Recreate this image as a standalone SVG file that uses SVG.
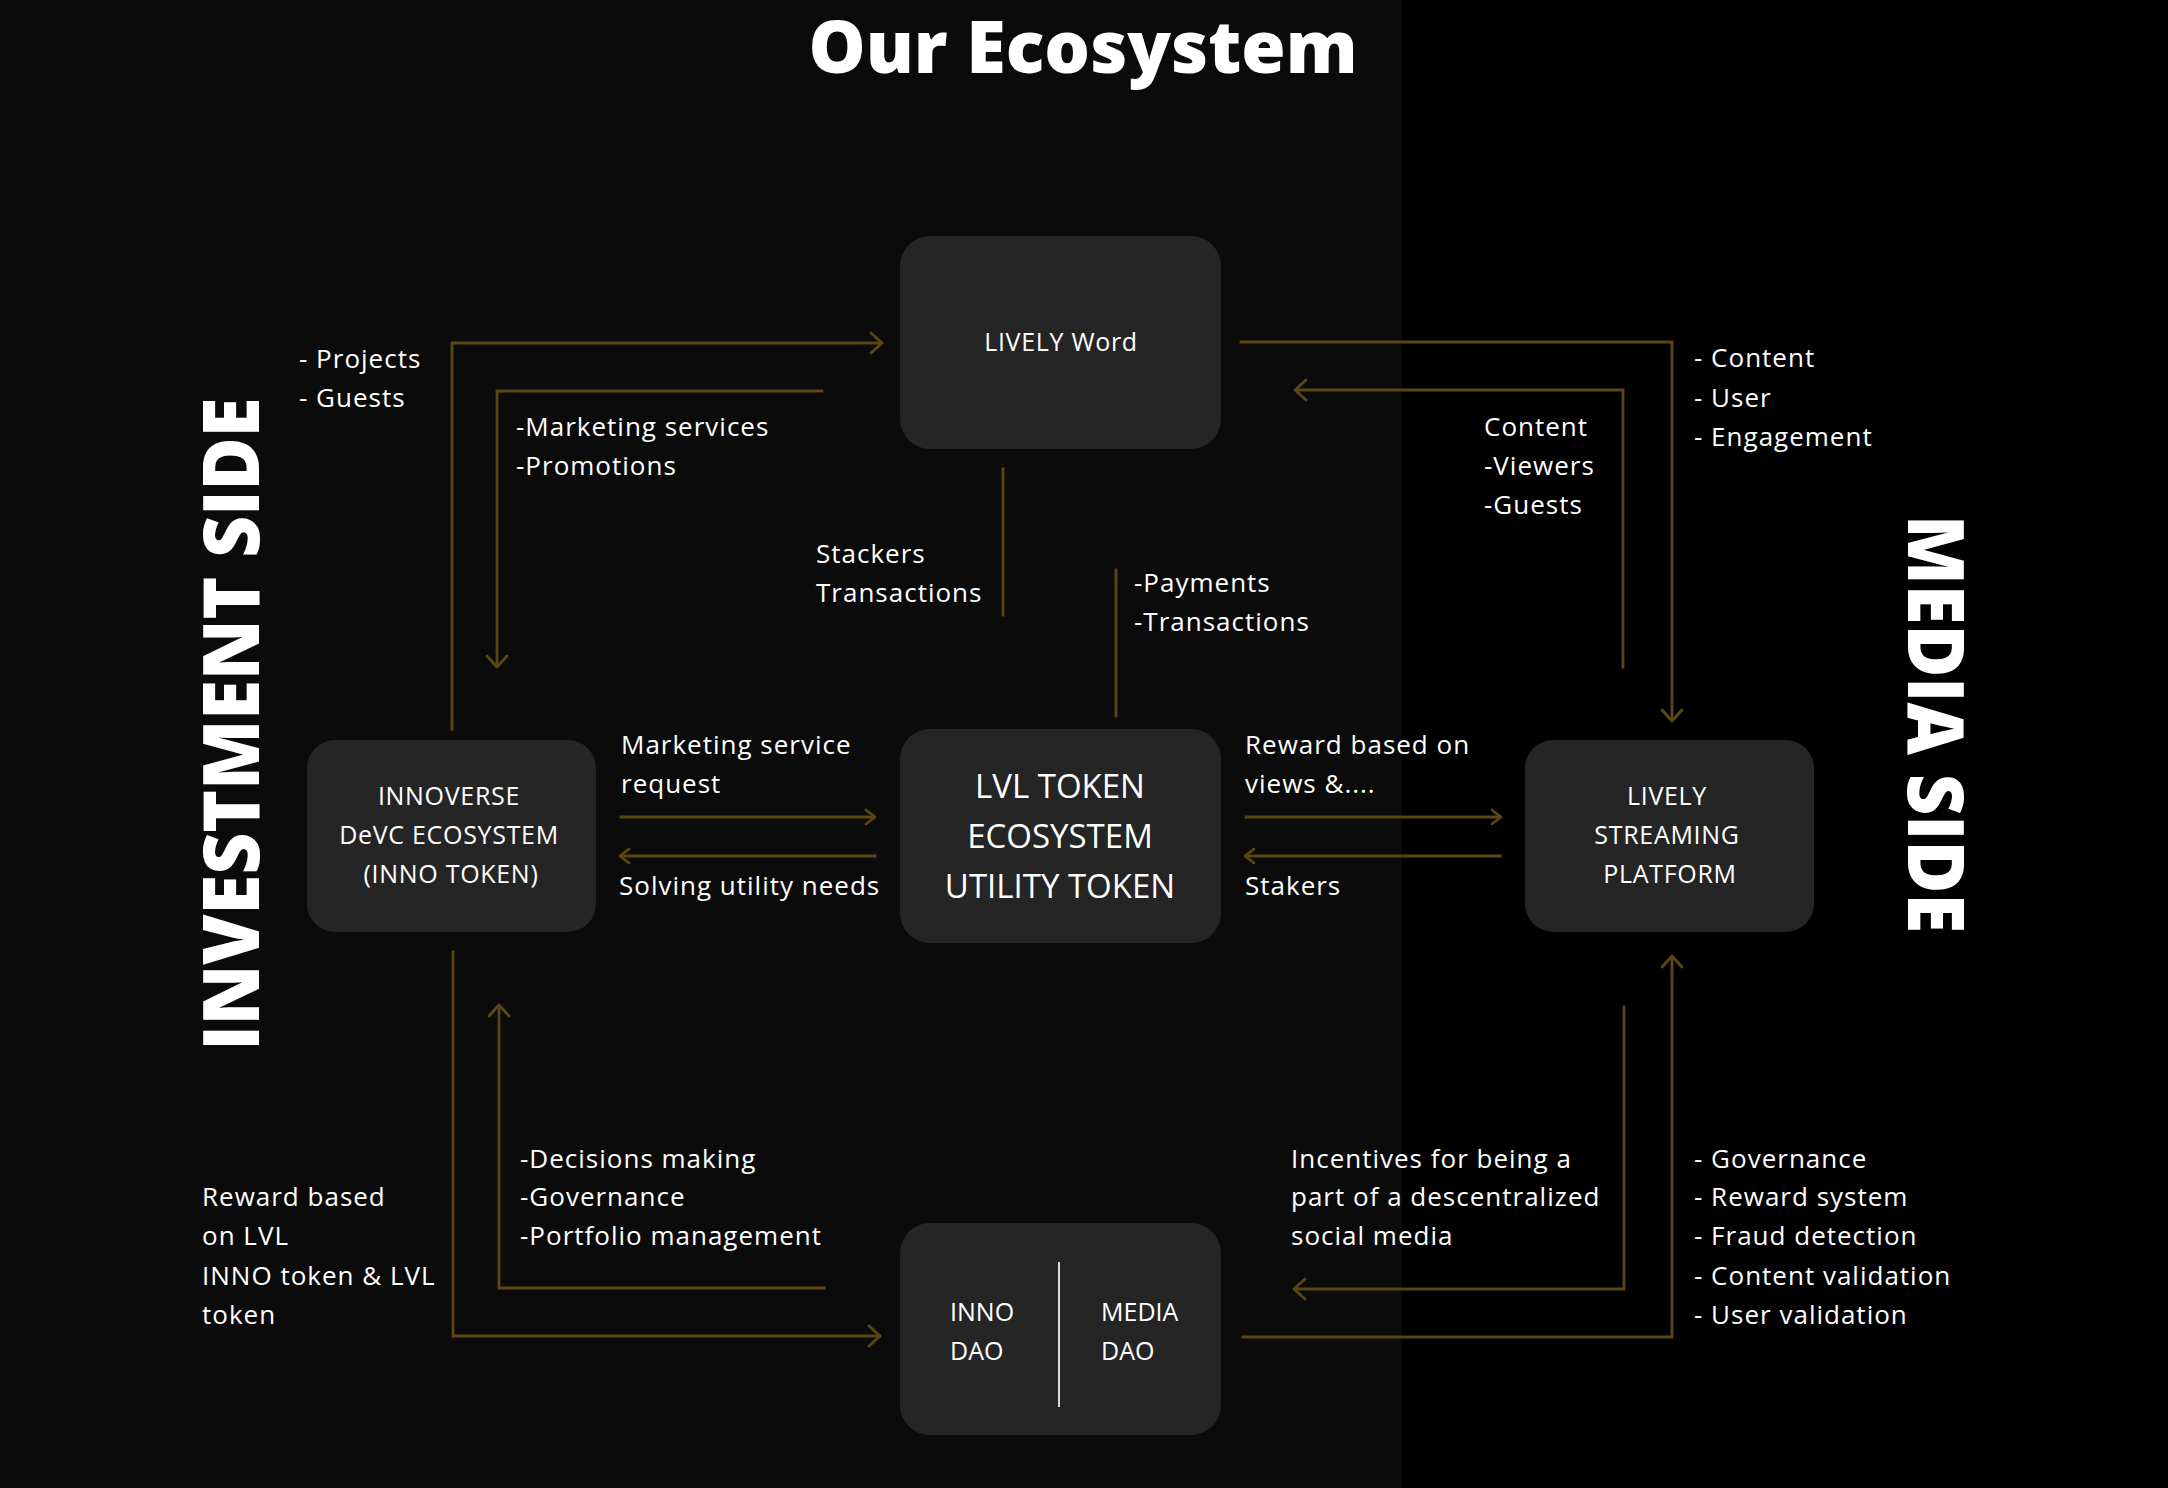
<svg xmlns="http://www.w3.org/2000/svg" width="2168" height="1488" viewBox="0 0 2168 1488">
<defs>
<style>
.bg{fill:#0b0b0b}
.bgr{fill:#000}
.node{fill:#252525}
.t{font-family:"Open Sans","Liberation Sans",sans-serif;fill:#ffffff;font-size:26px;letter-spacing:1px}
.d{font-family:"Open Sans","Liberation Sans",sans-serif;fill:#ffffff;font-size:25px}
.nt{font-family:"Open Sans","Liberation Sans",sans-serif;fill:#ffffff;font-size:25px;text-anchor:middle;letter-spacing:0.7px}
.big{font-family:"Open Sans","Liberation Sans",sans-serif;fill:#ffffff;font-size:33px;text-anchor:middle}
.head{font-family:"Open Sans","Liberation Sans",sans-serif;fill:#ffffff;font-weight:800;text-anchor:middle}
.c{fill:none;stroke:#5b4711;stroke-width:2.8;stroke-linecap:square}
.ah{fill:none;stroke:#5b4711;stroke-width:2.8;stroke-linecap:round;stroke-linejoin:round}
</style>
</defs>
<rect class="bg" x="0" y="0" width="2168" height="1488"/>
<rect class="bgr" x="1402" y="0" width="766" height="1488"/>

<text class="head" x="1083" y="73" font-size="72" textLength="549" lengthAdjust="spacingAndGlyphs">Our Ecosystem</text>
<text class="head" transform="translate(259,724) rotate(-90)" font-size="78" textLength="653" lengthAdjust="spacingAndGlyphs">INVESTMENT SIDE</text>
<text class="head" transform="translate(1908,724) rotate(90)" font-size="78" textLength="418" lengthAdjust="spacingAndGlyphs">MEDIA SIDE</text>

<g id="connectors">
<path class="c" d="M452,729 V343 H881"/>
<path class="ah" d="M871,333 L882,343 L871,353"/>
<path class="c" d="M822,391 H497 V665"/>
<path class="ah" d="M487,656 L497,667 L507,656"/>
<path class="c" d="M1003,469 V615"/>
<path class="c" d="M1116,570 V716"/>
<path class="c" d="M1241,342 H1672 V719"/>
<path class="ah" d="M1662,710 L1672,721 L1682,710"/>
<path class="c" d="M1623,667 V390 H1297"/>
<path class="ah" d="M1306,380 L1295,390 L1306,400"/>
<path class="c" d="M621,817 H874"/>
<path class="ah" d="M866,810 L875,817 L866,824"/>
<path class="c" d="M621,856 H875"/>
<path class="ah" d="M629,849 L620,856 L629,863"/>
<path class="c" d="M1246,817 H1500"/>
<path class="ah" d="M1492,810 L1501,817 L1492,824"/>
<path class="c" d="M1246,856 H1500"/>
<path class="ah" d="M1254,849 L1245,856 L1254,863"/>
<path class="c" d="M453,952 V1336 H879"/>
<path class="ah" d="M869,1326 L880,1336 L869,1346"/>
<path class="c" d="M824,1288 H499 V1007"/>
<path class="ah" d="M489,1016 L499,1005 L509,1016"/>
<path class="c" d="M1243,1337 H1672 V958"/>
<path class="ah" d="M1662,967 L1672,956 L1682,967"/>
<path class="c" d="M1624,1007 V1289 H1296"/>
<path class="ah" d="M1305,1279 L1294,1289 L1305,1299"/>
</g>

<g id="node-lively-word">
<rect class="node" x="900" y="236" width="321" height="213" rx="30"/>
<text class="nt" x="1061" y="351" font-size="26">LIVELY Word</text>
</g>
<g id="node-lvl-token">
<rect class="node" x="900" y="729" width="321" height="214" rx="30"/>
<text class="big" x="1060" y="798">LVL TOKEN</text>
<text class="big" x="1060" y="848">ECOSYSTEM</text>
<text class="big" x="1060" y="898">UTILITY TOKEN</text>
</g>
<g id="node-innoverse">
<rect class="node" x="307" y="740" width="289" height="192" rx="28"/>
<text class="nt" x="449" y="805">INNOVERSE</text>
<text class="nt" x="449" y="844">DeVC ECOSYSTEM</text>
<text class="nt" x="451" y="883">(INNO TOKEN)</text>
</g>
<g id="node-streaming">
<rect class="node" x="1525" y="740" width="289" height="192" rx="28"/>
<text class="nt" x="1667" y="805">LIVELY</text>
<text class="nt" x="1667" y="844">STREAMING</text>
<text class="nt" x="1670" y="883">PLATFORM</text>
</g>
<g id="node-dao">
<rect class="node" x="900" y="1223" width="321" height="212" rx="30"/>
<line x1="1059" y1="1262" x2="1059" y2="1407" stroke="#d8d8d8" stroke-width="2"/>
<text class="d" x="950" y="1321">INNO</text>
<text class="d" x="950" y="1360">DAO</text>
<text class="d" x="1101" y="1321">MEDIA</text>
<text class="d" x="1101" y="1360">DAO</text>
</g>

<g id="labels">
<text class="t" x="299" y="368">- Projects</text>
<text class="t" x="299" y="407">- Guests</text>
<text class="t" x="516" y="436">-Marketing services</text>
<text class="t" x="516" y="475">-Promotions</text>
<text class="t" x="816" y="563">Stackers</text>
<text class="t" x="816" y="602">Transactions</text>
<text class="t" x="1134" y="592">-Payments</text>
<text class="t" x="1134" y="631">-Transactions</text>
<text class="t" x="1484" y="436">Content</text>
<text class="t" x="1484" y="475">-Viewers</text>
<text class="t" x="1484" y="514">-Guests</text>
<text class="t" x="1694" y="367">- Content</text>
<text class="t" x="1694" y="407">- User</text>
<text class="t" x="1694" y="446">- Engagement</text>
<text class="t" x="621" y="754">Marketing service</text>
<text class="t" x="621" y="793">request</text>
<text class="t" x="619" y="895">Solving utility needs</text>
<text class="t" x="1245" y="754">Reward based on</text>
<text class="t" x="1245" y="793">views &amp;....</text>
<text class="t" x="1245" y="895">Stakers</text>
<text class="t" x="520" y="1168">-Decisions making</text>
<text class="t" x="520" y="1206">-Governance</text>
<text class="t" x="520" y="1245">-Portfolio management</text>
<text class="t" x="202" y="1206">Reward based</text>
<text class="t" x="202" y="1245">on LVL</text>
<text class="t" x="202" y="1285">INNO token &amp; LVL</text>
<text class="t" x="202" y="1324">token</text>
<text class="t" x="1291" y="1168">Incentives for being a</text>
<text class="t" x="1291" y="1206">part of a descentralized</text>
<text class="t" x="1291" y="1245">social media</text>
<text class="t" x="1694" y="1168">- Governance</text>
<text class="t" x="1694" y="1206">- Reward system</text>
<text class="t" x="1694" y="1245">- Fraud detection</text>
<text class="t" x="1694" y="1285">- Content validation</text>
<text class="t" x="1694" y="1324">- User validation</text>
</g>
</svg>
